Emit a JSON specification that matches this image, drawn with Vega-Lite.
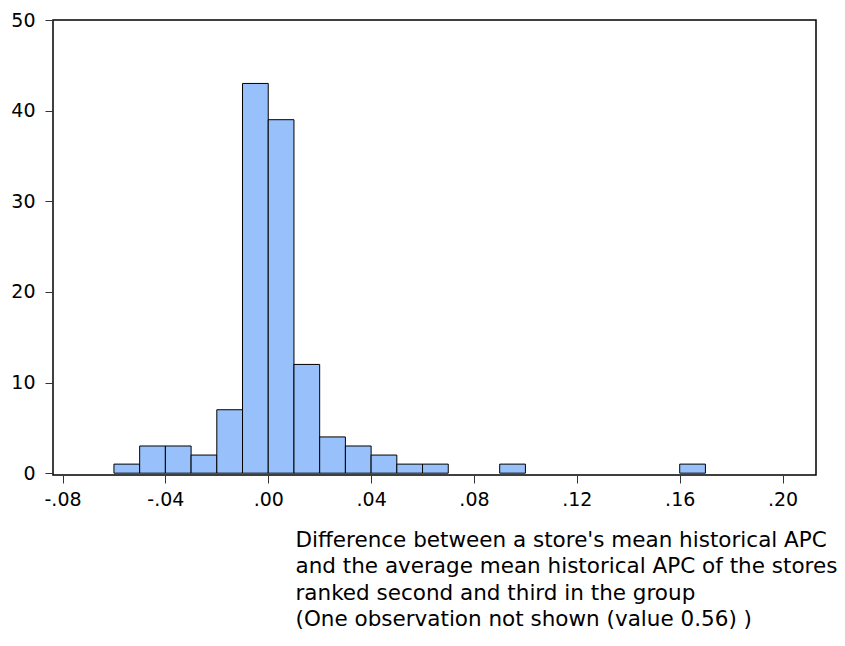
{
  "$schema": "https://vega.github.io/schema/vega-lite/v6.json",
  "width": 763,
  "height": 455,
  "autosize": "none",
  "padding": {"left": 53, "top": 20, "right": 29, "bottom": 171},
  "background": "white",
  "config": {
    "view": {"stroke": "#000000", "strokeWidth": 1.5},
    "font": "DejaVu Sans"
  },
  "data": {
    "values": [
      {"bin_start": -0.06, "bin_end": -0.05, "count": 1},
      {"bin_start": -0.05, "bin_end": -0.04, "count": 3},
      {"bin_start": -0.04, "bin_end": -0.03, "count": 3},
      {"bin_start": -0.03, "bin_end": -0.02, "count": 2},
      {"bin_start": -0.02, "bin_end": -0.01, "count": 7},
      {"bin_start": -0.01, "bin_end": 0.0, "count": 43},
      {"bin_start": 0.0, "bin_end": 0.01, "count": 39},
      {"bin_start": 0.01, "bin_end": 0.02, "count": 12},
      {"bin_start": 0.02, "bin_end": 0.03, "count": 4},
      {"bin_start": 0.03, "bin_end": 0.04, "count": 3},
      {"bin_start": 0.04, "bin_end": 0.05, "count": 2},
      {"bin_start": 0.05, "bin_end": 0.06, "count": 1},
      {"bin_start": 0.06, "bin_end": 0.07, "count": 1},
      {"bin_start": 0.09, "bin_end": 0.10, "count": 1},
      {"bin_start": 0.16, "bin_end": 0.17, "count": 1}
    ]
  },
  "mark": {"type": "rect", "fill": "#98C0FA", "stroke": "#000000", "strokeWidth": 1},
  "encoding": {
    "x": {
      "field": "bin_start",
      "type": "quantitative",
      "scale": {"domain": [-0.0837, 0.213], "nice": false, "zero": false},
      "axis": {
        "values": [-0.08, -0.04, 0, 0.04, 0.08, 0.12, 0.16, 0.2],
        "labelExpr": "replace(replace(format(datum.value, '.2f'), '\u2212', '-'), '0.', '.')",
        "domain": false,
        "grid": false,
        "ticks": true,
        "tickSize": 8,
        "tickColor": "#333333",
        "tickWidth": 1,
        "labelFont": "DejaVu Sans",
        "labelFontSize": 19,
        "labelColor": "#000000",
        "labelPadding": 7,
        "labelFlush": false,
        "title": [
          "Difference between a store's mean historical APC",
          "and the average mean historical APC of the stores",
          "ranked second and third in the group",
          "(One observation not shown (value 0.56) )"
        ],
        "titleFont": "DejaVu Sans",
        "titleFontSize": 21.5,
        "titleFontWeight": "normal",
        "titleColor": "#000000",
        "titleAlign": "left",
        "titleBaseline": "alphabetic",
        "titleX": 242,
        "titleY": 71,
        "titleLineHeight": 26.5
      }
    },
    "x2": {"field": "bin_end"},
    "y": {
      "field": "count",
      "type": "quantitative",
      "scale": {"domain": [-0.2, 50], "nice": false, "zero": false},
      "axis": {
        "values": [0, 10, 20, 30, 40, 50],
        "domain": false,
        "grid": false,
        "tickSize": 8,
        "tickColor": "#333333",
        "tickWidth": 1,
        "labelFont": "DejaVu Sans",
        "labelFontSize": 19,
        "labelColor": "#000000",
        "labelPadding": 10,
        "labelFlush": false,
        "title": null
      }
    },
    "y2": {"datum": 0}
  }
}
